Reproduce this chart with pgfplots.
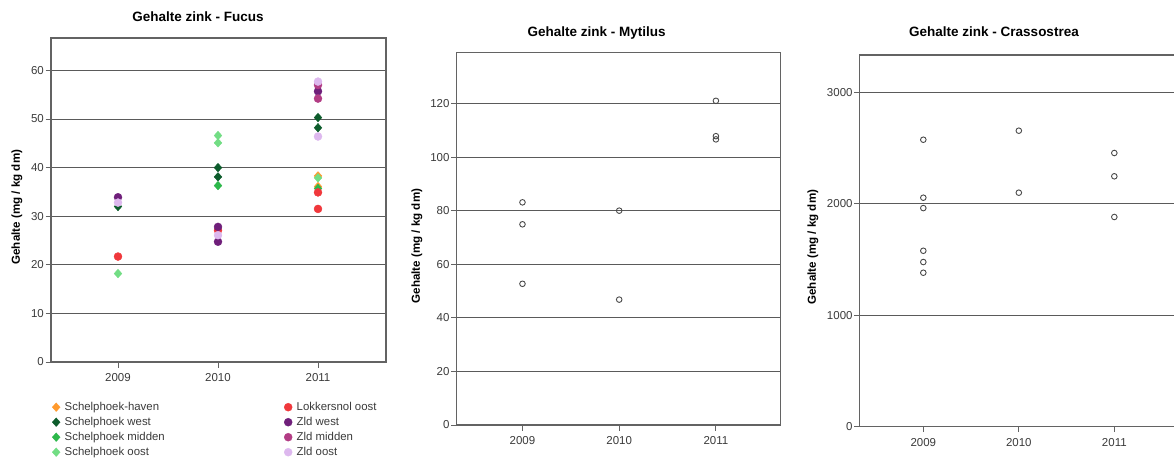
\documentclass[border=0pt]{standalone}
\usepackage{fontspec}
\setmainfont{Liberation Sans}
\usepackage{pgfplots}
\pgfplotsset{compat=1.18}

% site colours (Fucus)
\definecolor{shaven}{HTML}{FF9A2E}
\definecolor{swest}{HTML}{0D5C2C}
\definecolor{smidden}{HTML}{2DB84B}
\definecolor{soost}{HTML}{72DD84}
\definecolor{lokker}{HTML}{F0383C}
\definecolor{zwest}{HTML}{6F1F7A}
\definecolor{zmidden}{HTML}{B23C84}
\definecolor{zoost}{HTML}{DDB8EE}
% frame, grid and text greys
\definecolor{framegray}{HTML}{636363}
\definecolor{gridgray}{HTML}{5A5A5A}
\definecolor{ticktext}{HTML}{3A3A3A}
\definecolor{ringgray}{HTML}{4A4A4A}

\pgfplotsset{
  zinkaxis/.style={
    scale only axis,
    anchor=south west,
    axis line style={framegray, line width=1.2pt},
    ymajorgrids,
    major grid style={gridgray, line width=0.9pt},
    tick align=outside,
    tick pos=left,
    major tick length=5.5pt,
    tick style={framegray, line width=1pt},
    xtick={2009,2010,2011},
    xticklabels={2009,2010,2011},
    ymin=0,
    scaled y ticks=false,
    /pgf/number format/1000 sep={},
    /pgf/number format/assume math mode=true,
    ticklabel style={font=\fontsize{11.5}{13}\selectfont, text=ticktext},
    yticklabel style={inner xsep=1.5pt},
    xticklabel style={inner ysep=6pt},
    every axis title/.style={anchor=center, font=\bfseries\fontsize{13.5}{15}\selectfont},
    every axis y label/.style={rotate=90, anchor=center, font=\bfseries\fontsize{11.6}{13}\selectfont},
    ylabel={Gehalte (mg / kg dm)},
  },
  ring/.style={only marks, mark=o, mark size=2.8pt,
    mark options={draw=ringgray, line width=0.9pt}},
  diamark/.style={only marks, mark=diamond*, mark size=4.3pt,
    mark options={xscale=1.2}, color=#1},
  dotmark/.style={only marks, mark=*, mark size=4pt, color=#1},
  dia/.style={diamark=#1, forget plot},
  dot/.style={dotmark=#1, forget plot},
}

\begin{document}
\begin{tikzpicture}
\useasboundingbox (0pt,0pt) rectangle (1174pt,464pt);

% ---------------- Fucus ----------------
\begin{axis}[zinkaxis,
  at={(51pt,102pt)}, width=335pt, height=324pt,
  xmin=2008.33, xmax=2011.68, ymax=66.67,
  ytick={0,10,20,30,40,50,60},
  title={Gehalte zink - Fucus},
  title style={at={(0.439,1.065)}},
  ylabel style={at={(-0.1015,0.478)}},
  legend columns=2,
  legend cell align=left,
  legend image code/.code={\draw[#1] plot coordinates {(0pt,0pt)};
    \path[draw=none, fill=none] (-4pt,-4pt) (4pt,4pt);},
  legend style={at={(0.003,-0.1157)}, anchor=north west, draw=none, fill=none,
    inner sep=0pt, row sep=0pt, column sep=0pt,
    /tikz/every even column/.style={column sep=0pt},
    font=\fontsize{11.4}{13}\selectfont, text=ticktext,
    nodes={inner xsep=4.5pt, inner ysep=2pt, text height=8.5pt, text depth=2.5pt}},
]
\addplot[dia=shaven]  coordinates {(2011,38.3) (2011,36.1)};
\addplot[dia=swest]   coordinates {(2009,32.0) (2010,40.0) (2010,38.1) (2011,50.3) (2011,48.2)};
\addplot[dia=smidden] coordinates {(2010,36.3) (2011,35.7)};
\addplot[dia=soost]   coordinates {(2009,18.2) (2010,46.6) (2010,45.1) (2011,37.9)};
\addplot[dot=lokker]  coordinates {(2009,21.7) (2010,27.1) (2011,34.9) (2011,31.5)};
\addplot[dot=zwest]   coordinates {(2009,33.9) (2010,27.8) (2010,24.75) (2011,55.7)};
\addplot[dot=zmidden] coordinates {(2011,57.0) (2011,54.2)};
\addplot[dot=zoost]   coordinates {(2009,32.8) (2010,26.1) (2011,57.7) (2011,46.4)};

\addlegendimage{diamark=shaven}
\addlegendentry{\makebox[215pt][l]{Schelphoek-haven}}
\addlegendimage{dotmark=lokker}
\addlegendentry{Lokkersnol oost}
\addlegendimage{diamark=swest}
\addlegendentry{\makebox[215pt][l]{Schelphoek west}}
\addlegendimage{dotmark=zwest}
\addlegendentry{Zld west}
\addlegendimage{diamark=smidden}
\addlegendentry{\makebox[215pt][l]{Schelphoek midden}}
\addlegendimage{dotmark=zmidden}
\addlegendentry{Zld midden}
\addlegendimage{diamark=soost}
\addlegendentry{\makebox[215pt][l]{Schelphoek oost}}
\addlegendimage{dotmark=zoost}
\addlegendentry{Zld oost}
\end{axis}

% ---------------- Mytilus ----------------
\begin{axis}[zinkaxis,
  at={(456.7pt,39pt)}, width=324pt, height=372.7pt,
  xmin=2008.32, xmax=2011.67, ymax=139.1,
  ytick={0,20,40,60,80,100,120},
  title={Gehalte zink - Mytilus},
  title style={at={(0.4315,1.052)}},
  ylabel style={at={(-0.1225,0.480)}},
]
\addplot[ring] coordinates {
  (2009,83.1) (2009,74.9) (2009,52.7)
  (2010,80.0) (2010,46.8)
  (2011,121.0) (2011,107.8) (2011,106.6)};
\end{axis}

% ---------------- Crassostrea ----------------
\begin{axis}[zinkaxis,
  at={(859.7pt,37.3pt)}, width=318.6pt, height=371.7pt,
  xmin=2008.334, xmax=2011.67, ymax=3334,
  ytick={0,1000,2000,3000},
  title={Gehalte zink - Crassostrea},
  title style={at={(0.4215,1.062)}},
  ylabel style={at={(-0.1466,0.483)}},
]
\addplot[ring] coordinates {
  (2009,2574) (2009,2054) (2009,1961) (2009,1578) (2009,1477) (2009,1381)
  (2010,2655) (2010,2099)
  (2011,2455) (2011,2246) (2011,1881)};
\end{axis}
\end{tikzpicture}
\end{document}
